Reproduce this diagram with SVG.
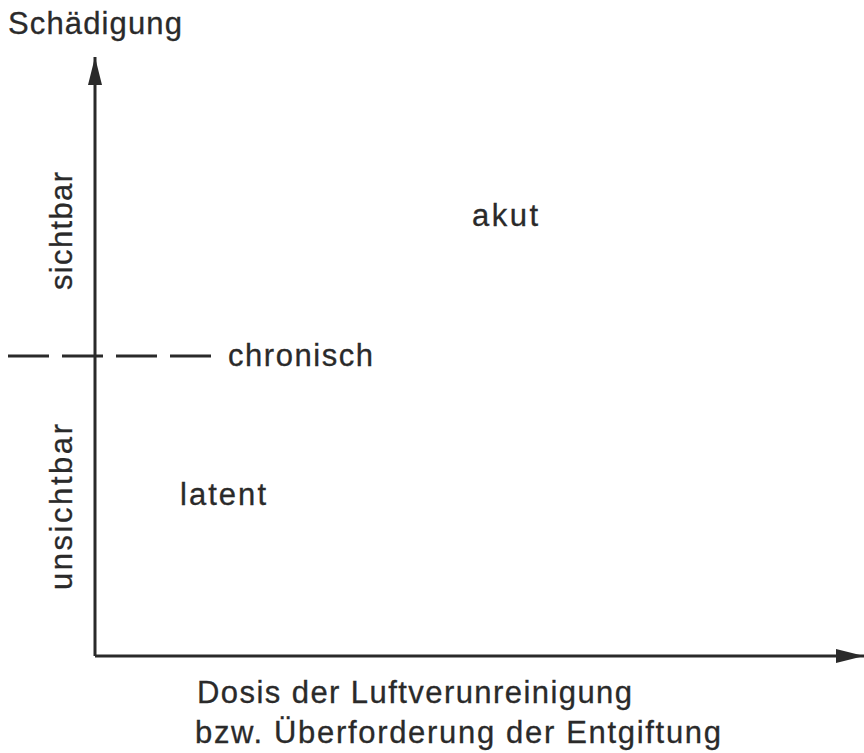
<svg xmlns="http://www.w3.org/2000/svg" width="864" height="753" viewBox="0 0 864 753">
<style>
text{font-family:"Liberation Sans","DejaVu Sans",sans-serif;fill:#2a2a2a;font-size:31px;stroke:#2a2a2a;stroke-width:0.3}
.ax{stroke:#2a2a2a;stroke-width:3;fill:none}
.dash{stroke:#2a2a2a;stroke-width:3;stroke-dasharray:41 13;fill:none}
</style>
<defs>
<marker id="ah" viewBox="0 0 28 14" refX="28" refY="7" markerWidth="28" markerHeight="14" markerUnits="userSpaceOnUse" orient="auto">
<path d="M0,0 L28,7 L0,14 Z" fill="#2a2a2a"/>
</marker>
</defs>
<rect width="864" height="753" fill="#fff"/>
<g id="connectors">
<line class="ax" x1="95" y1="656" x2="95" y2="57" marker-end="url(#ah)"/>
<line class="ax" x1="95" y1="656" x2="864" y2="656" marker-end="url(#ah)"/>
<line class="dash" x1="8" y1="356" x2="212" y2="356"/>
</g>
<g id="y-label"><text x="8" y="34" textLength="174" lengthAdjust="spacing">Schädigung</text></g>
<g id="sichtbar"><text transform="translate(72,290) rotate(-90)" textLength="118" lengthAdjust="spacing">sichtbar</text></g>
<g id="unsichtbar"><text transform="translate(72,590) rotate(-90)" textLength="166" lengthAdjust="spacing">unsichtbar</text></g>
<g id="akut"><text x="472" y="226" textLength="66" lengthAdjust="spacing">akut</text></g>
<g id="chronisch"><text x="228" y="366" textLength="145" lengthAdjust="spacing">chronisch</text></g>
<g id="latent"><text x="180" y="505" textLength="86" lengthAdjust="spacing">latent</text></g>
<g id="x-label">
<text x="197" y="703" textLength="435" lengthAdjust="spacing">Dosis der Luftverunreinigung</text>
<text x="195" y="743" textLength="526" lengthAdjust="spacing">bzw. Überforderung der Entgiftung</text>
</g>
</svg>
